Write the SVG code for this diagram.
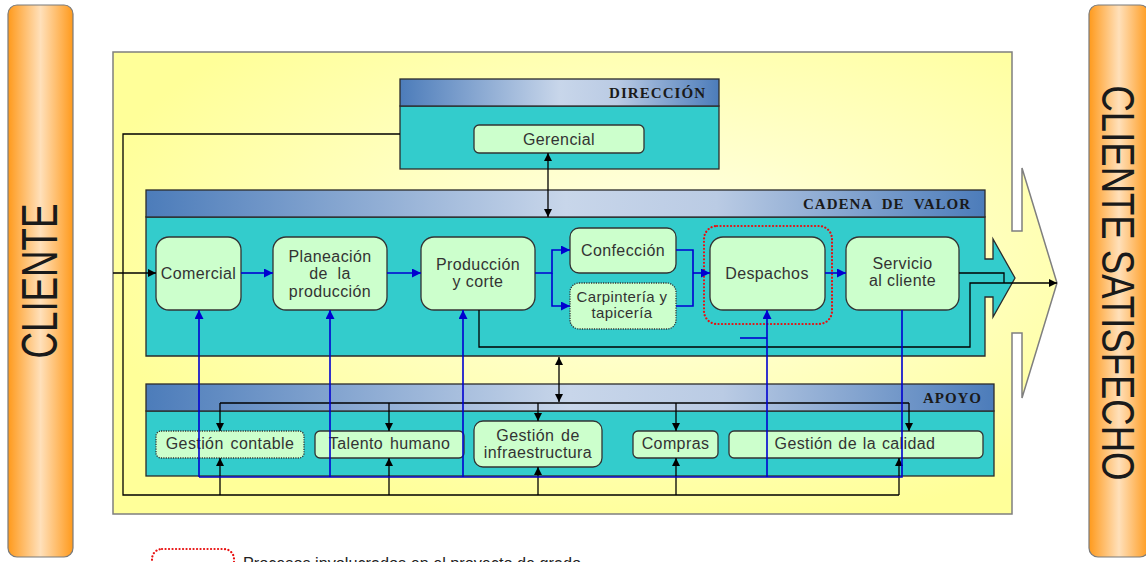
<svg xmlns="http://www.w3.org/2000/svg" width="1146" height="562" viewBox="0 0 1146 562">
  <defs>
    <linearGradient id="orange" x1="0" y1="0" x2="1" y2="0">
      <stop offset="0" stop-color="#FF9A1C"/>
      <stop offset="0.5" stop-color="#FFE0BA"/>
      <stop offset="1" stop-color="#FF9A1C"/>
    </linearGradient>
    <radialGradient id="yellow" cx="0.58" cy="0.42" r="0.62">
      <stop offset="0" stop-color="#FFFFE8"/>
      <stop offset="1" stop-color="#FFFF99"/>
    </radialGradient>
    <linearGradient id="band" x1="0" y1="0" x2="1" y2="0">
      <stop offset="0" stop-color="#4C7CBA"/>
      <stop offset="0.5" stop-color="#C8D6EA"/>
      <stop offset="0.68" stop-color="#BACBE4"/>
      <stop offset="1" stop-color="#4C7CBA"/>
    </linearGradient>
    <marker id="ak" viewBox="0 0 10 10" refX="10" refY="5" markerWidth="9" markerHeight="8" orient="auto-start-reverse" markerUnits="userSpaceOnUse">
      <path d="M0,0 L10,5 L0,10 z" fill="#000"/>
    </marker>
    <marker id="au" viewBox="0 0 10 10" refX="10" refY="5" markerWidth="10" markerHeight="9" orient="auto-start-reverse" markerUnits="userSpaceOnUse">
      <path d="M0,0 L10,5 L0,10 z" fill="#0000D0"/>
    </marker>
  </defs>
  <style>
    .bar { fill: url(#orange); stroke: #7A7A7A; stroke-width: 1.2; }
    .side { font-family: "Liberation Sans", Arial, sans-serif; fill: #1A1A1A; }
    .band { fill: url(#band); stroke: #2B2B2B; stroke-width: 1.3; }
    .body { fill: #33CCCC; stroke: #2B2B2B; stroke-width: 1.3; }
    .hdr { font-family: "Liberation Serif", "Times New Roman", serif; font-weight: bold; font-size: 15px; fill: #1A1A1A; }
    .node { fill: #CCFFCC; stroke: #333; stroke-width: 1.3; }
    .dot { stroke-dasharray: 1.2 1.2; }
    .lbl { font-family: "Liberation Sans", Arial, sans-serif; font-size: 16px; fill: #333; text-anchor: middle; letter-spacing: 0.4px; }
    .sm { font-size: 15px; }
    .k { fill: none; stroke: #000; stroke-width: 1.3; }
    .b { fill: none; stroke: #0000D0; stroke-width: 1.6; }
    .red { fill: none; stroke: #E81010; stroke-width: 2.2; stroke-dasharray: 0.1 3.4; stroke-linecap: round; }
  </style>

  <!-- side bars -->
  <rect class="bar" x="8" y="5" width="65" height="552" rx="9"/>
  <text class="side" transform="translate(57,281) rotate(-90)" text-anchor="middle" font-size="50" textLength="155" lengthAdjust="spacingAndGlyphs">CLIENTE</text>
  <rect class="bar" x="1089" y="5" width="60" height="552" rx="9"/>
  <text class="side" transform="translate(1102,283) rotate(90)" text-anchor="middle" font-size="46" textLength="395" lengthAdjust="spacingAndGlyphs">CLIENTE SATISFECHO</text>

  <!-- yellow frame with its output arrow -->
  <path d="M113,52 H1012 V231 H1022 V168 L1057,283 L1022,398 V333 H1012 V514 H113 Z" fill="url(#yellow)" stroke="#7F7F7F" stroke-width="1.5"/>

  <!-- DIRECCIÓN -->
  <g id="direccion">
    <rect class="body" x="400" y="106" width="319" height="63"/>
    <rect class="band" x="400" y="79" width="319" height="27"/>
    <text class="hdr" x="609" y="98" textLength="96" lengthAdjust="spacing">DIRECCIÓN</text>
  </g>

  <!-- CADENA DE VALOR -->
  <g id="cadena">
    <path class="body" d="M146,217 H985 V259 H993 V239 L1015,278 L993,317 V297 H985 V356 H146 Z"/>
    <rect class="band" x="146" y="190" width="839" height="27"/>
    <text class="hdr" x="803" y="209" textLength="167" lengthAdjust="spacing" xml:space="preserve">CADENA  DE  VALOR</text>
  </g>

  <!-- APOYO -->
  <g id="apoyo">
    <rect class="body" x="146" y="411" width="848" height="65"/>
    <rect class="band" x="146" y="384" width="848" height="27"/>
    <text class="hdr" x="923" y="403" textLength="58" lengthAdjust="spacing">APOYO</text>
  </g>

  <!-- nodes -->
  <g id="gerencial">
    <rect class="node" x="474" y="125" width="170" height="28" rx="5"/>
    <text class="lbl" x="559" y="145">Gerencial</text>
  </g>
  <g id="comercial">
    <rect class="node" x="156" y="237" width="85" height="73" rx="13"/>
    <text class="lbl" x="198.5" y="279">Comercial</text>
  </g>
  <g id="planeacion">
    <rect class="node" x="273" y="237" width="114" height="73" rx="13"/>
    <text class="lbl" x="330" y="262">Planeación</text>
    <text class="lbl" x="330" y="279" xml:space="preserve">de  la</text>
    <text class="lbl" x="330" y="297">producción</text>
  </g>
  <g id="produccion">
    <rect class="node" x="421" y="237" width="114" height="73" rx="13"/>
    <text class="lbl" x="478" y="270">Producción</text>
    <text class="lbl" x="478" y="287">y corte</text>
  </g>
  <g id="confeccion">
    <rect class="node" x="570" y="228" width="106" height="45" rx="9"/>
    <text class="lbl" x="623" y="256">Confección</text>
  </g>
  <g id="carpinteria">
    <rect class="node dot" x="570" y="283" width="106" height="46" rx="9"/>
    <text class="lbl sm" x="622" y="302" letter-spacing="0">Carpintería y</text>
    <text class="lbl sm" x="622" y="318" letter-spacing="0">tapicería</text>
  </g>
  <g id="despachos">
    <rect class="node" x="710" y="237" width="115" height="73" rx="13"/>
    <text class="lbl" x="767" y="279">Despachos</text>
    <rect class="red" x="704" y="226" width="128" height="98" rx="13"/>
  </g>
  <g id="servicio">
    <rect class="node" x="846" y="237" width="113" height="73" rx="13"/>
    <text class="lbl" x="902.5" y="269">Servicio</text>
    <text class="lbl" x="902.5" y="286">al cliente</text>
  </g>
  <g id="contable">
    <rect class="node dot" x="156" y="431" width="148" height="27" rx="5"/>
    <text class="lbl" x="230" y="449" word-spacing="2">Gestión contable</text>
  </g>
  <g id="talento">
    <rect class="node" x="315" y="431" width="149" height="27" rx="5"/>
    <text class="lbl" x="389.5" y="449" word-spacing="2">Talento humano</text>
  </g>
  <g id="infraestructura">
    <rect class="node" x="474" y="421" width="128" height="46" rx="9"/>
    <text class="lbl" x="538" y="441" word-spacing="2">Gestión de</text>
    <text class="lbl" x="538" y="458">infraestructura</text>
  </g>
  <g id="compras">
    <rect class="node" x="633" y="431" width="85" height="27" rx="5"/>
    <text class="lbl" x="675.5" y="449">Compras</text>
  </g>
  <g id="calidad">
    <rect class="node" x="729" y="431" width="254" height="27" rx="5"/>
    <text class="lbl" x="855" y="449" word-spacing="1">Gestión de la calidad</text>
  </g>

  <!-- connectors -->
  <g id="connectors">
    <!-- black flows -->
    <path class="k" d="M113,273 H156" marker-end="url(#ak)"/>
    <path class="k" d="M400,134 H123 V495 H899"/>
    <path class="k" d="M548,153 V217" marker-start="url(#ak)" marker-end="url(#ak)"/>
    <path class="k" d="M559,357 V402" marker-start="url(#ak)" marker-end="url(#ak)"/>
    <path class="k" d="M479,310 V347 H970 V283 H1057" marker-end="url(#ak)"/>
    <path class="k" d="M959,273 H1004 V283"/>
    <path class="k" d="M220,403 H909"/>
    <path class="k" d="M220,403 V431" marker-end="url(#ak)"/>
    <path class="k" d="M389,403 V431" marker-end="url(#ak)"/>
    <path class="k" d="M538,403 V421" marker-end="url(#ak)"/>
    <path class="k" d="M676,403 V431" marker-end="url(#ak)"/>
    <path class="k" d="M909,403 V431" marker-end="url(#ak)"/>
    <path class="k" d="M220,495 V458" marker-end="url(#ak)"/>
    <path class="k" d="M389,495 V458" marker-end="url(#ak)"/>
    <path class="k" d="M538,495 V467" marker-end="url(#ak)"/>
    <path class="k" d="M676,495 V458" marker-end="url(#ak)"/>
    <path class="k" d="M899,495 V458" marker-end="url(#ak)"/>

    <!-- blue flows -->
    <path class="b" d="M241,273 H273" marker-end="url(#au)"/>
    <path class="b" d="M387,273 H421" marker-end="url(#au)"/>
    <path class="b" d="M535,273 H552 V250 H570" marker-end="url(#au)"/>
    <path class="b" d="M552,273 V306 H570" marker-end="url(#au)"/>
    <path class="b" d="M676,250 H693 V306 H676"/>
    <path class="b" d="M693,273 H710" marker-end="url(#au)"/>
    <path class="b" d="M825,273 H846" marker-end="url(#au)"/>
    <path class="b" d="M902,310 V477 H199"/>
    <path class="b" d="M199,477 V310" marker-end="url(#au)"/>
    <path class="b" d="M330,477 V310" marker-end="url(#au)"/>
    <path class="b" d="M463,477 V310" marker-end="url(#au)"/>
    <path class="b" d="M767,477 V310" marker-end="url(#au)"/>
    <path class="b" d="M740,338 H767"/>
  </g>

  <!-- legend -->
  <g id="legend">
    <rect class="red" x="152" y="549" width="82" height="40" rx="10"/>
    <text x="243" y="569" font-family="Liberation Sans, Arial, sans-serif" font-size="16" fill="#222" textLength="338" lengthAdjust="spacingAndGlyphs">Procesos involucrados en el proyecto de grado</text>
  </g>
</svg>
